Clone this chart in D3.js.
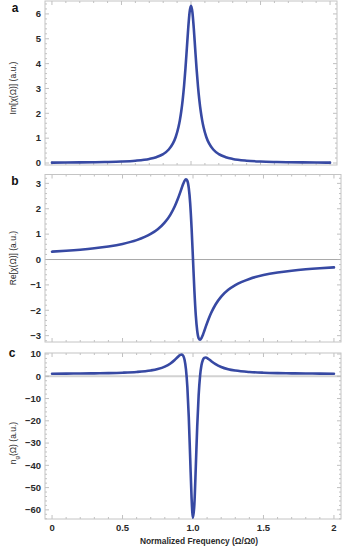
<!DOCTYPE html>
<html>
<head>
<meta charset="utf-8">
<script src="https://cdn.jsdelivr.net/npm/d3@7"></script>
<style>
  html, body { margin: 0; padding: 0; background: #fff; }
  svg { display: block; }
  text { font-family: "Liberation Sans", Arial, sans-serif; }
</style>
</head>
<body>
<svg id="chart" width="350" height="551"></svg>
<script>
// Normalized frequency samples (Ω/Ω0)
const freq = [0.0, 0.1, 0.2, 0.3, 0.4, 0.5, 0.6, 0.7, 0.75, 0.8, 0.84, 0.87, 0.89,
  0.91, 0.92, 0.93, 0.94, 0.95, 0.96, 0.97, 0.98, 0.99, 1.0, 1.01, 1.02, 1.03, 1.04,
  1.05, 1.06, 1.07, 1.08, 1.09, 1.11, 1.13, 1.16, 1.2, 1.25, 1.3, 1.4, 1.5, 1.6,
  1.7, 1.8, 1.9, 2.0];

// Im[χ(Ω)] (a.u.)
const imChi = [0.015, 0.019, 0.024, 0.031, 0.042, 0.060, 0.094, 0.164, 0.234, 0.358,
  0.543, 0.787, 1.048, 1.447, 1.726, 2.081, 2.531, 3.099, 3.797, 4.602, 5.423, 6.074,
  6.327, 6.074, 5.423, 4.602, 3.797, 3.099, 2.531, 2.081, 1.726, 1.447, 1.048, 0.787,
  0.543, 0.358, 0.234, 0.164, 0.094, 0.060, 0.042, 0.031, 0.024, 0.019, 0.015];

// Re[χ(Ω)] (a.u.)
const reChi = [0.309, 0.343, 0.386, 0.441, 0.513, 0.614, 0.764, 1.007, 1.194, 1.462,
  1.771, 2.088, 2.352, 2.657, 2.818, 2.972, 3.100, 3.163, 3.099, 2.817, 2.214, 1.240,
  0.0, -1.240, -2.214, -2.817, -3.099, -3.163, -3.100, -2.972, -2.818, -2.657, -2.352,
  -2.088, -1.771, -1.462, -1.194, -1.007, -0.764, -0.614, -0.513, -0.441, -0.386,
  -0.343, -0.309];

// n_g(Ω) (a.u.)
const nGroup = [1.155, 1.191, 1.241, 1.314, 1.425, 1.608, 1.938, 2.616, 3.256, 4.325,
  5.738, 7.292, 8.539, 9.618, 9.771, 9.244, 7.401, 3.188, -4.896, -18.30, -36.64,
  -54.83, -63.56, -57.21, -40.43, -22.40, -8.616, 0.090, 4.921, 7.289, 8.234, 8.403,
  7.760, 6.773, 5.434, 4.159, 3.167, 2.564, 1.915, 1.597, 1.419, 1.310, 1.238,
  1.189, 1.153];

// Axis ticks
const xTicks = [0, 0.5, 1.0, 1.5, 2];
const xTickLabels = ["0", "0.5", "1.0", "1.5", "2"];
const imTicks = [0, 1, 2, 3, 4, 5, 6];
const reTicks = [-3, -2, -1, 0, 1, 2, 3];
const ngTicks = [-60, -50, -40, -30, -20, -10, 0, 10];

const svg = d3.select("#chart");
const curveColor = "#3749a3";
const frameColor = "#c4c4c4";
const tickColor = "#b0b0b0";
const labelColor = "#2a2a2a";
const fmtSigned = v => (v < 0 ? "\u2212" + Math.abs(v) : String(v));

const panels = [
  { key: "a", values: imChi, ticks: imTicks, minorStep: 0.2,
    domain: [-0.08, 6.52], top: 1, bottom: 165, left: 45, right: 337,
    zero: null, showX: false, letterY: 12, titleY: 88,
    title: t => { t.text("Im[\u03C7(\u03A9)] (a.u.)"); } },
  { key: "b", values: reChi, ticks: reTicks, minorStep: 0.2,
    domain: [-3.25, 3.35], top: 174.5, bottom: 342, left: 45, right: 341,
    zero: { color: "#a8a8a8", width: 1 }, showX: false, letterY: 185, titleY: 258,
    title: t => { t.text("Re[\u03C7(\u03A9)] (a.u.)"); } },
  { key: "c", values: nGroup, ticks: ngTicks, minorStep: 2,
    domain: [-64.1, 10.45], top: 353, bottom: 519, left: 45, right: 341,
    zero: { color: "#d2d2d2", width: 2.2 }, showX: true, letterY: 357, titleY: 443,
    title: t => {
      t.append("tspan").text("n");
      t.append("tspan").attr("baseline-shift", "sub").attr("font-size", "6px").text("g");
      t.append("tspan").text("(\u03A9) (a.u.)");
    } }
];

const xMinor = d3.range(0, 2.0001, 0.1).map(v => +v.toFixed(2));

panels.forEach(p => {
  const x = d3.scaleLinear().domain([-0.05, 2.05]).range([p.left, p.right]);
  const y = d3.scaleLinear().domain(p.domain).range([p.bottom, p.top]);
  const g = svg.append("g").attr("class", "panel-" + p.key);

  // zero reference line
  if (p.zero) {
    g.append("line")
      .attr("x1", p.left).attr("x2", p.right)
      .attr("y1", y(0)).attr("y2", y(0))
      .attr("stroke", p.zero.color).attr("stroke-width", p.zero.width);
  }

  // frame ticks: inward on all four sides
  const yMinor = d3.range(Math.ceil(p.domain[0] / p.minorStep), Math.floor(p.domain[1] / p.minorStep) + 1)
    .map(k => +(k * p.minorStep).toFixed(3));
  const tk = g.append("g").attr("stroke", tickColor).attr("stroke-width", 0.8);
  xMinor.forEach(v => {
    const major = xTicks.some(t => Math.abs(t - v) < 1e-6);
    const len = major ? 4 : 2;
    tk.append("line").attr("x1", x(v)).attr("x2", x(v)).attr("y1", p.bottom).attr("y2", p.bottom - len);
    tk.append("line").attr("x1", x(v)).attr("x2", x(v)).attr("y1", p.top).attr("y2", p.top + len);
  });
  yMinor.forEach(v => {
    const major = p.ticks.some(t => Math.abs(t - v) < 1e-6);
    const len = major ? 4 : 2;
    tk.append("line").attr("y1", y(v)).attr("y2", y(v)).attr("x1", p.left).attr("x2", p.left + len);
    tk.append("line").attr("y1", y(v)).attr("y2", y(v)).attr("x1", p.right).attr("x2", p.right - len);
  });

  // frame
  g.append("rect")
    .attr("x", p.left).attr("y", p.top)
    .attr("width", p.right - p.left).attr("height", p.bottom - p.top)
    .attr("fill", "none").attr("stroke", frameColor).attr("stroke-width", 1);

  // y tick labels
  g.append("g").selectAll("text").data(p.ticks).join("text")
    .attr("x", p.left - 4).attr("y", d => y(d)).attr("dy", "0.35em")
    .attr("text-anchor", "end").attr("font-size", "9.5px").attr("font-weight", "bold")
    .attr("fill", labelColor).text(fmtSigned);

  // x tick labels
  if (p.showX) {
    g.append("g").selectAll("text").data(xTicks).join("text")
      .attr("x", d => x(d)).attr("y", p.bottom + 12)
      .attr("text-anchor", "middle").attr("font-size", "9.5px").attr("font-weight", "bold")
      .attr("fill", labelColor).text((d, i) => xTickLabels[i]);
  }

  // curve
  const line = d3.line()
    .x((d, i) => x(freq[i]))
    .y(d => y(d))
    .curve(d3.curveMonotoneX);
  g.append("path").datum(p.values)
    .attr("d", line)
    .attr("fill", "none").attr("stroke", curveColor)
    .attr("stroke-width", 2.6).attr("stroke-linejoin", "round").attr("stroke-linecap", "round");

  // panel letter
  svg.append("text").attr("x", p.key === "c" ? 12 : 15).attr("y", p.letterY)
    .attr("text-anchor", "middle").attr("font-size", "12px").attr("font-weight", "bold")
    .attr("fill", "#111").text(p.key);

  // y-axis title
  const t = svg.append("text")
    .attr("transform", `translate(16,${p.titleY}) rotate(-90)`)
    .attr("text-anchor", "middle").attr("font-size", "8.5px")
    .attr("fill", labelColor);
  p.title(t);
});

// x-axis title
svg.append("text")
  .attr("x", 199).attr("y", 544)
  .attr("text-anchor", "middle").attr("font-size", "8.4px").attr("font-weight", "bold")
  .attr("fill", labelColor).text("Normalized Frequency (\u03A9/\u03A90)");
</script>
</body>
</html>
